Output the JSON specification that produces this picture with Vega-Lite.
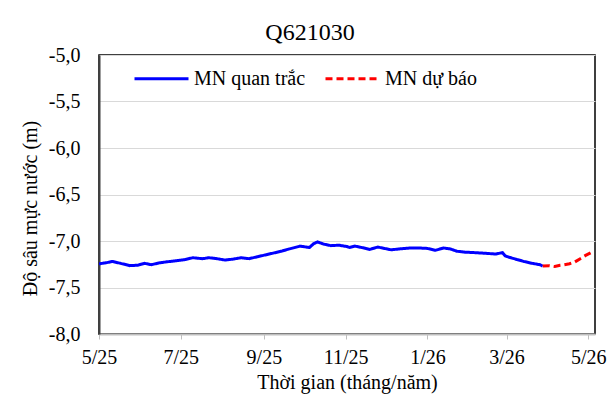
{
  "$schema": "https://vega.github.io/schema/vega-lite/v6.json",
  "width": 496,
  "height": 279,
  "autosize": {"type": "none"},
  "padding": {"left": 99, "top": 55, "right": 13, "bottom": 76},
  "background": "white",
  "title": {"text": "Q621030", "fontSize": 24, "font": "Times New Roman", "fontWeight": "normal", "color": "black", "anchor": "middle", "frame": "group", "dx": -37, "offset": 0},
  "data": {
    "values": [
      {"date": "2025-05-01", "value": -7.245, "series": "MN quan trắc"},
      {"date": "2025-05-06", "value": -7.235, "series": "MN quan trắc"},
      {"date": "2025-05-11", "value": -7.22, "series": "MN quan trắc"},
      {"date": "2025-05-17", "value": -7.24, "series": "MN quan trắc"},
      {"date": "2025-05-24", "value": -7.265, "series": "MN quan trắc"},
      {"date": "2025-05-30", "value": -7.26, "series": "MN quan trắc"},
      {"date": "2025-06-04", "value": -7.24, "series": "MN quan trắc"},
      {"date": "2025-06-09", "value": -7.255, "series": "MN quan trắc"},
      {"date": "2025-06-15", "value": -7.235, "series": "MN quan trắc"},
      {"date": "2025-06-20", "value": -7.225, "series": "MN quan trắc"},
      {"date": "2025-06-26", "value": -7.215, "series": "MN quan trắc"},
      {"date": "2025-07-04", "value": -7.2, "series": "MN quan trắc"},
      {"date": "2025-07-10", "value": -7.18, "series": "MN quan trắc"},
      {"date": "2025-07-17", "value": -7.19, "series": "MN quan trắc"},
      {"date": "2025-07-22", "value": -7.18, "series": "MN quan trắc"},
      {"date": "2025-07-28", "value": -7.19, "series": "MN quan trắc"},
      {"date": "2025-08-03", "value": -7.205, "series": "MN quan trắc"},
      {"date": "2025-08-09", "value": -7.195, "series": "MN quan trắc"},
      {"date": "2025-08-15", "value": -7.18, "series": "MN quan trắc"},
      {"date": "2025-08-21", "value": -7.19, "series": "MN quan trắc"},
      {"date": "2025-08-27", "value": -7.17, "series": "MN quan trắc"},
      {"date": "2025-09-02", "value": -7.15, "series": "MN quan trắc"},
      {"date": "2025-09-08", "value": -7.13, "series": "MN quan trắc"},
      {"date": "2025-09-14", "value": -7.11, "series": "MN quan trắc"},
      {"date": "2025-09-20", "value": -7.085, "series": "MN quan trắc"},
      {"date": "2025-09-28", "value": -7.055, "series": "MN quan trắc"},
      {"date": "2025-10-05", "value": -7.07, "series": "MN quan trắc"},
      {"date": "2025-10-08", "value": -7.03, "series": "MN quan trắc"},
      {"date": "2025-10-11", "value": -7.01, "series": "MN quan trắc"},
      {"date": "2025-10-16", "value": -7.035, "series": "MN quan trắc"},
      {"date": "2025-10-21", "value": -7.05, "series": "MN quan trắc"},
      {"date": "2025-10-27", "value": -7.045, "series": "MN quan trắc"},
      {"date": "2025-11-02", "value": -7.06, "series": "MN quan trắc"},
      {"date": "2025-11-04", "value": -7.07, "series": "MN quan trắc"},
      {"date": "2025-11-08", "value": -7.055, "series": "MN quan trắc"},
      {"date": "2025-11-13", "value": -7.07, "series": "MN quan trắc"},
      {"date": "2025-11-19", "value": -7.09, "series": "MN quan trắc"},
      {"date": "2025-11-25", "value": -7.065, "series": "MN quan trắc"},
      {"date": "2025-11-30", "value": -7.08, "series": "MN quan trắc"},
      {"date": "2025-12-05", "value": -7.095, "series": "MN quan trắc"},
      {"date": "2025-12-11", "value": -7.085, "series": "MN quan trắc"},
      {"date": "2025-12-19", "value": -7.075, "series": "MN quan trắc"},
      {"date": "2025-12-26", "value": -7.075, "series": "MN quan trắc"},
      {"date": "2026-01-01", "value": -7.08, "series": "MN quan trắc"},
      {"date": "2026-01-07", "value": -7.1, "series": "MN quan trắc"},
      {"date": "2026-01-13", "value": -7.075, "series": "MN quan trắc"},
      {"date": "2026-01-18", "value": -7.085, "series": "MN quan trắc"},
      {"date": "2026-01-23", "value": -7.11, "series": "MN quan trắc"},
      {"date": "2026-01-29", "value": -7.12, "series": "MN quan trắc"},
      {"date": "2026-02-05", "value": -7.125, "series": "MN quan trắc"},
      {"date": "2026-02-11", "value": -7.13, "series": "MN quan trắc"},
      {"date": "2026-02-16", "value": -7.135, "series": "MN quan trắc"},
      {"date": "2026-02-21", "value": -7.14, "series": "MN quan trắc"},
      {"date": "2026-02-26", "value": -7.125, "series": "MN quan trắc"},
      {"date": "2026-02-28", "value": -7.16, "series": "MN quan trắc"},
      {"date": "2026-03-03", "value": -7.175, "series": "MN quan trắc"},
      {"date": "2026-03-09", "value": -7.2, "series": "MN quan trắc"},
      {"date": "2026-03-14", "value": -7.22, "series": "MN quan trắc"},
      {"date": "2026-03-20", "value": -7.24, "series": "MN quan trắc"},
      {"date": "2026-03-26", "value": -7.255, "series": "MN quan trắc"},
      {"date": "2026-03-28", "value": -7.27, "series": "MN quan trắc"},
      {"date": "2026-03-28", "value": -7.27, "series": "MN dự báo"},
      {"date": "2026-04-02", "value": -7.265, "series": "MN dự báo"},
      {"date": "2026-04-06", "value": -7.275, "series": "MN dự báo"},
      {"date": "2026-04-10", "value": -7.26, "series": "MN dự báo"},
      {"date": "2026-04-13", "value": -7.255, "series": "MN dự báo"},
      {"date": "2026-04-17", "value": -7.245, "series": "MN dự báo"},
      {"date": "2026-04-21", "value": -7.225, "series": "MN dự báo"},
      {"date": "2026-04-25", "value": -7.19, "series": "MN dự báo"},
      {"date": "2026-04-29", "value": -7.155, "series": "MN dự báo"},
      {"date": "2026-05-03", "value": -7.125, "series": "MN dự báo"}
    ]
  },
  "mark": {"type": "line", "strokeWidth": 3, "clip": true},
  "encoding": {
    "x": {
      "field": "date",
      "type": "temporal",
      "scale": {"type": "utc", "domain": [{"year": 2025, "month": 5, "date": 1, "utc": true}, {"year": 2026, "month": 5, "date": 6, "utc": true}]},
      "axis": {
        "title": "Thời gian (tháng/năm)",
        "values": [
          {"year": 2025, "month": 5, "date": 1, "utc": true},
          {"year": 2025, "month": 7, "date": 1, "utc": true},
          {"year": 2025, "month": 9, "date": 1, "utc": true},
          {"year": 2025, "month": 11, "date": 1, "utc": true},
          {"year": 2026, "month": 1, "date": 1, "utc": true},
          {"year": 2026, "month": 3, "date": 1, "utc": true},
          {"year": 2026, "month": 5, "date": 1, "utc": true}
        ],
        "format": "%-m/%y",
        "grid": false,
        "domainColor": "#bfbfbf",
        "domainWidth": 2,
        "ticks": true,
        "tickColor": "#bfbfbf",
        "tickSize": 5,
        "labelPadding": 8,
        "labelFlush": false,
        "titlePadding": 5,
        "labelFont": "Times New Roman",
        "titleFont": "Times New Roman",
        "titleFontWeight": "normal"
      }
    },
    "y": {
      "field": "value",
      "type": "quantitative",
      "scale": {"domain": [-8, -5], "nice": false, "zero": false},
      "axis": {
        "title": "Độ sâu mực nước (m)",
        "values": [-8, -7.5, -7, -6.5, -6, -5.5, -5],
        "labelExpr": "replace(replace(format(datum.value, '.1f'), '.', ','), '\u2212', '-')",
        "grid": true,
        "gridColor": "#d9d9d9",
        "gridWidth": 1,
        "domainColor": "#404040",
        "domainWidth": 2,
        "ticks": false,
        "labelPadding": 19,
        "titlePadding": 8,
        "titleY": 153,
        "labelFont": "Times New Roman",
        "titleFont": "Times New Roman",
        "titleFontWeight": "normal"
      }
    },
    "color": {
      "field": "series",
      "type": "nominal",
      "scale": {"domain": ["MN quan trắc", "MN dự báo"], "range": ["#0000ff", "#ff0000"]},
      "legend": {
        "title": null,
        "orient": "none",
        "direction": "horizontal",
        "legendX": 34,
        "legendY": -5,
        "symbolType": "stroke",
        "symbolSize": 2916,
        "symbolStrokeWidth": 3,
        "labelFontSize": 20,
        "labelFont": "Times New Roman",
        "labelColor": "black",
        "labelOffset": 4,
        "columnPadding": 13,
        "padding": 0
      }
    },
    "strokeDash": {
      "field": "series",
      "type": "nominal",
      "scale": {"domain": ["MN quan trắc", "MN dự báo"], "range": [[1, 0], [7, 4]]},
      "legend": {
        "title": null,
        "orient": "none",
        "direction": "horizontal",
        "legendX": 34,
        "legendY": -5,
        "symbolType": "stroke",
        "symbolSize": 2916,
        "symbolStrokeWidth": 3,
        "labelFontSize": 20,
        "labelFont": "Times New Roman",
        "labelColor": "black",
        "labelOffset": 4,
        "columnPadding": 13,
        "padding": 0
      }
    }
  },
  "config": {
    "view": {"stroke": "black", "strokeWidth": 1.5},
    "axis": {
      "labelFontSize": 20,
      "labelColor": "black",
      "titleFontSize": 20,
      "titleColor": "black"
    }
  }
}
